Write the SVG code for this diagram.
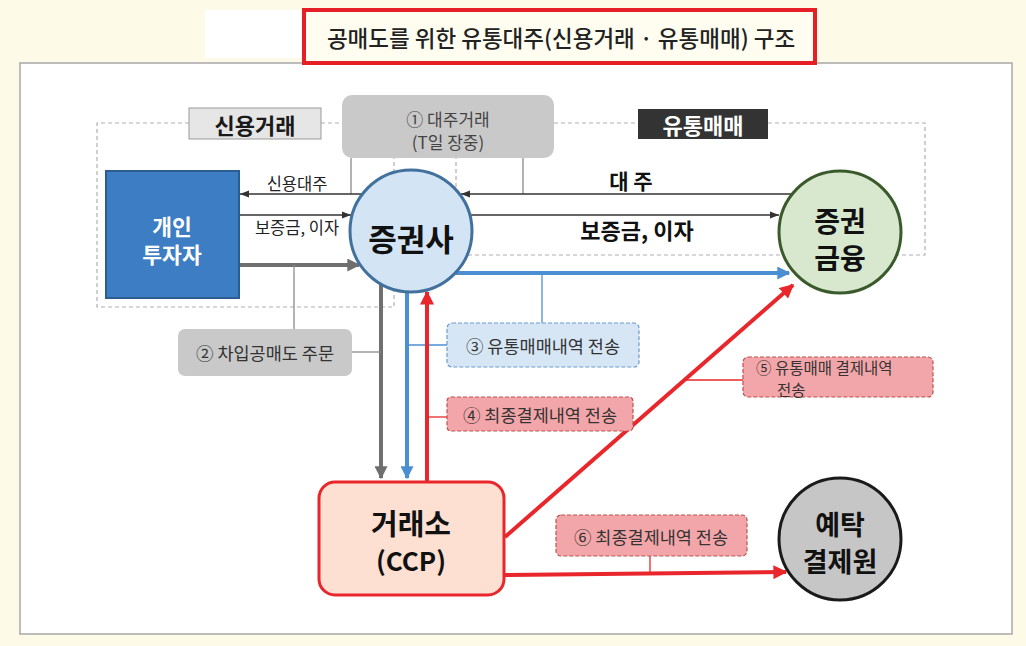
<svg xmlns="http://www.w3.org/2000/svg" width="1026" height="646" viewBox="0 0 1026 646">
<defs>
<marker id="ah-k" viewBox="0 0 10 10" refX="10" refY="5" markerWidth="9" markerHeight="9" markerUnits="userSpaceOnUse" orient="auto"><path d="M0,1 L10,5 L0,9 Z" fill="#333"/></marker>
<marker id="ah-g" viewBox="0 0 10 10" refX="9" refY="5" markerWidth="13" markerHeight="13" markerUnits="userSpaceOnUse" orient="auto"><path d="M0,0 L10,5 L0,10 Z" fill="#6f6f6f"/></marker>
<marker id="ah-b" viewBox="0 0 10 10" refX="9" refY="5" markerWidth="13" markerHeight="13" markerUnits="userSpaceOnUse" orient="auto"><path d="M0,0 L10,5 L0,10 Z" fill="#4a8fd3"/></marker>
<marker id="ah-r" viewBox="0 0 10 10" refX="9" refY="5" markerWidth="14" markerHeight="14" markerUnits="userSpaceOnUse" orient="auto"><path d="M0,0 L10,5 L0,10 Z" fill="#e8262b"/></marker>
</defs>
<style>
text{font-family:"Noto Sans CJK KR","Noto Sans",sans-serif;text-anchor:middle;dominant-baseline:central}
.b{font-weight:700}
.lbl{font-size:17.5px;fill:#333}
.thin{stroke:#333;stroke-width:1.5;fill:none}
.conn{stroke:#8a8a8a;stroke-width:1.3;fill:none}
.dash{stroke:#b0b0b0;stroke-width:1.2;fill:none;stroke-dasharray:4 3}
</style>
<rect x="0" y="0" width="1026" height="646" fill="#fdfbe8"/>
<rect x="205" y="10" width="100" height="48" fill="#ffffff"/>
<rect x="20" y="63" width="992" height="571" fill="#ffffff" stroke="#a8a8a8" stroke-width="1.5"/>
<g id="title">
<rect x="304" y="10" width="511" height="53" fill="#fffdf0" stroke="#e61e25" stroke-width="4"/>
<text x="561" y="37" style="font-size:22.5px;font-weight:500;fill:#222">공매도를 위한 유통대주(신용거래 · 유통매매) 구조</text>
</g>
<g id="regions">
<path class="dash" d="M189,123 H97 V307 H394 V158"/>
<path class="dash" d="M321,123 H342"/>
<path class="dash" d="M554,123 H638 M768,123 H925 V255 H456 V158"/>
</g>
<g id="label-credit">
<rect x="189" y="108" width="132" height="31" fill="#e6e6e6" stroke="#9a9a9a" stroke-width="1"/>
<text class="b" x="255" y="124" style="font-size:22px;fill:#1a1a1a">신용거래</text>
</g>
<g id="label-market">
<rect x="638" y="109" width="130" height="30" fill="#333333"/>
<text class="b" x="703" y="124" style="font-size:22px;fill:#ffffff">유통매매</text>
</g>
<g id="connectors">
<line class="conn" x1="351" y1="158" x2="351" y2="194"/>
<line class="conn" x1="523" y1="158" x2="523" y2="194"/>
<line class="thin" x1="362" y1="194" x2="240" y2="194" marker-end="url(#ah-k)"/>
<line class="thin" x1="240" y1="215" x2="351" y2="215" marker-end="url(#ah-k)"/>
<line class="thin" x1="791" y1="194" x2="461" y2="194" marker-end="url(#ah-k)"/>
<line class="thin" x1="471" y1="215" x2="779" y2="215" marker-end="url(#ah-k)"/>
<line x1="239" y1="265" x2="359" y2="265" stroke="#6f6f6f" stroke-width="4" marker-end="url(#ah-g)"/>
<line class="conn" x1="294" y1="265" x2="294" y2="329"/>
<line x1="381" y1="284" x2="381" y2="478" stroke="#6f6f6f" stroke-width="4" marker-end="url(#ah-g)"/>
<line class="conn" x1="352" y1="352" x2="381" y2="352"/>
<line x1="407" y1="291" x2="407" y2="478" stroke="#4a8fd3" stroke-width="4" marker-end="url(#ah-b)"/>
<line x1="456" y1="273" x2="789" y2="273" stroke="#4a8fd3" stroke-width="4" marker-end="url(#ah-b)"/>
<line x1="407" y1="345" x2="447" y2="345" stroke="#4a8fd3" stroke-width="1.3"/>
<line x1="542" y1="273" x2="542" y2="323" stroke="#4a8fd3" stroke-width="1.3"/>
<line x1="427" y1="481" x2="427" y2="292" stroke="#e8262b" stroke-width="4" marker-end="url(#ah-r)"/>
<line x1="427" y1="417" x2="447" y2="417" stroke="#e8262b" stroke-width="1.3"/>
<line x1="505" y1="537" x2="793" y2="285" stroke="#e8262b" stroke-width="4" marker-end="url(#ah-r)"/>
<line x1="684" y1="380" x2="743" y2="380" stroke="#e8262b" stroke-width="1.3"/>
<line x1="505" y1="575" x2="786" y2="572" stroke="#e8262b" stroke-width="4" marker-end="url(#ah-r)"/>
<line x1="650" y1="556" x2="650" y2="573" stroke="#e8262b" stroke-width="1.3"/>
<text x="297" y="183" style="font-size:16.5px;fill:#222">신용대주</text>
<text x="297" y="227" style="font-size:16.5px;fill:#222">보증금, 이자</text>
<text class="b" x="631" y="180" style="font-size:21px;fill:#111">대 주</text>
<text class="b" x="637" y="229" style="font-size:22px;fill:#111">보증금, 이자</text>
</g>
<g id="step1">
<rect x="342" y="95" width="212" height="63" rx="10" fill="#c9c9c9"/>
<text style="font-size:17px;fill:#444"><tspan x="448" y="118">① 대주거래</tspan><tspan x="448" y="141">(T일 장중)</tspan></text>
</g>
<g id="investor">
<rect x="106" y="171" width="133" height="127" fill="#3d7dc3" stroke="#2b5c92" stroke-width="2"/>
<text class="b" style="font-size:21.5px;fill:#ffffff"><tspan x="172" y="225">개인</tspan><tspan x="172" y="253">투자자</tspan></text>
</g>
<g id="broker">
<circle cx="411" cy="231" r="61" fill="#d3e5f5" stroke="#41719c" stroke-width="3"/>
<text class="b" x="411" y="237" style="font-size:31px;fill:#111">증권사</text>
</g>
<g id="ksfc">
<circle cx="840" cy="232" r="61" fill="#d7e8cf" stroke="#3b5a2b" stroke-width="3"/>
<text class="b" style="font-size:28px;fill:#111"><tspan x="840" y="220">증권</tspan><tspan x="840" y="257">금융</tspan></text>
</g>
<g id="step2">
<rect x="178" y="329" width="174" height="47" rx="7" fill="#c9c9c9"/>
<text class="lbl" x="265" y="352">② 차입공매도 주문</text>
</g>
<g id="step3">
<rect x="447" y="323" width="192" height="44" rx="5" fill="#d6e6f5" stroke="#6b9bd0" stroke-width="1.2" stroke-dasharray="4 2"/>
<text class="lbl" x="543" y="345">③ 유통매매내역 전송</text>
</g>
<g id="step4">
<rect x="447" y="397" width="186" height="34" rx="4" fill="#f3a6a9" stroke="#c0504d" stroke-width="1.2" stroke-dasharray="4 2"/>
<text class="lbl" x="540" y="414">④ 최종결제내역 전송</text>
</g>
<g id="step5">
<rect x="743" y="357" width="190" height="40" rx="5" fill="#f3a6a9" stroke="#c0504d" stroke-width="1.2" stroke-dasharray="4 2"/>
<text style="text-anchor:start;font-size:15.5px;fill:#333"><tspan x="756" y="367">⑤ 유통매매 결제내역</tspan><tspan x="777" y="389">전송</tspan></text>
</g>
<g id="exchange">
<rect x="319" y="482" width="185" height="113" rx="16" fill="#fde0d2" stroke="#e8262b" stroke-width="3"/>
<text class="b" style="font-size:29px;fill:#111"><tspan x="411" y="522">거래소</tspan><tspan x="411" y="559" style="font-size:26px">(CCP)</tspan></text>
</g>
<g id="step6">
<rect x="556" y="515" width="191" height="41" rx="5" fill="#f3a6a9" stroke="#c0504d" stroke-width="1.2" stroke-dasharray="4 2"/>
<text class="lbl" x="651" y="536">⑥ 최종결제내역 전송</text>
</g>
<g id="ksd">
<circle cx="840" cy="539" r="61" fill="#c6c6c6" stroke="#1a1a1a" stroke-width="3"/>
<text class="b" style="font-size:27px;fill:#111"><tspan x="840" y="523">예탁</tspan><tspan x="840" y="560">결제원</tspan></text>
</g>
</svg>
